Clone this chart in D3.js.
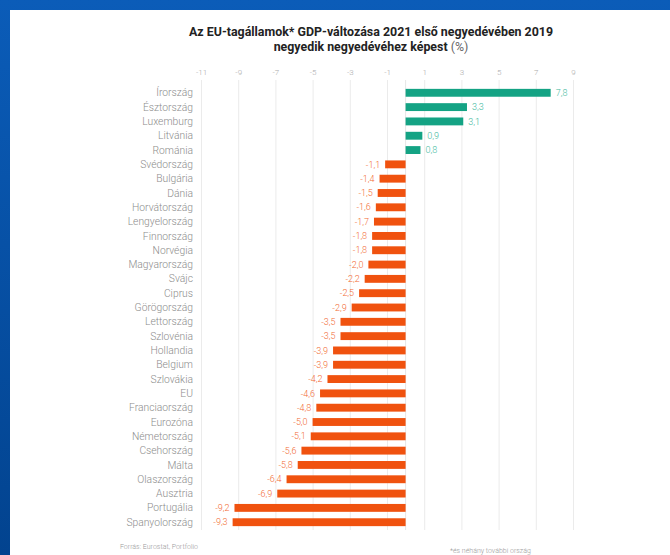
<!DOCTYPE html>
<meta charset="utf-8">
<style>
  body {
    margin: 0;
    padding: 0;
    background: linear-gradient(to bottom, #0b5cb8, #02438f);
    width: 670px;
    height: 555px;
    overflow: hidden;
  }
  svg text {
    font-family: Roboto, "Noto Sans", sans-serif;
  }
  .title {
    font-size: 12.4px;
    font-weight: 700;
    fill: #222;
  }
  .tick text {
    font-size: 8px;
    fill: #aaa;
    font-weight: 300;
  }
  .country {
    font-size: 10.3px;
    font-weight: 300;
    fill: #8c8c8c;
  }
  .val {
    font-size: 9px;
    font-weight: 300;
  }
  .foot {
    font-size: 7px;
    fill: #999;
    font-weight: 300;
  }
</style>
<body>
<script src="https://d3js.org/d3.v7.min.js"></script>
<script>

var countries = ["Írország", "Észtország", "Luxemburg", "Litvánia", "Románia",
  "Svédország", "Bulgária", "Dánia", "Horvátország", "Lengyelország",
  "Finnország", "Norvégia", "Magyarország", "Svájc", "Ciprus", "Görögország",
  "Lettország", "Szlovénia", "Hollandia", "Belgium", "Szlovákia", "EU",
  "Franciaország", "Eurozóna", "Németország", "Csehország", "Málta",
  "Olaszország", "Ausztria", "Portugália", "Spanyolország"];
var values = [7.8, 3.3, 3.1, 0.9, 0.8, -1.1, -1.4, -1.5, -1.6, -1.7, -1.8, -1.8,
  -2.0, -2.2, -2.5, -2.9, -3.5, -3.5, -3.9, -3.9, -4.2, -4.6, -4.8, -5.0, -5.1,
  -5.6, -5.8, -6.4, -6.9, -9.2, -9.3];
var ticks = [-11, -9, -7, -5, -3, -1, 1, 3, 5, 7, 9];

var width = 670, height = 555;
var posColor = "#14a384", negColor = "#f0520f";

var svg = d3.select("body").append("svg")
    .attr("width", width)
    .attr("height", height)
    .style("display", "block");

// white panel over the blue frame
svg.append("rect")
    .attr("x", 10).attr("y", 10)
    .attr("width", width - 10).attr("height", height - 10)
    .attr("fill", "#fff");

var x = d3.scaleLinear()
    .domain([-11, 9])
    .range([201, 573]);

var y = d3.scaleBand()
    .domain(countries)
    .range([86, 529])
    .paddingInner(0.45)
    .paddingOuter(0.2);

// title
svg.append("text").attr("class", "title")
    .attr("x", 371).attr("y", 36)
    .attr("text-anchor", "middle")
    .text("Az EU-tagállamok* GDP-változása 2021 első negyedévében 2019");
var t2 = svg.append("text").attr("class", "title")
    .attr("x", 371).attr("y", 51)
    .attr("text-anchor", "middle");
t2.append("tspan").text("negyedik negyedévéhez képest ");
t2.append("tspan").attr("font-weight", 400).attr("fill", "#666").text("(%)");

// grid + top tick labels
var axis = d3.axisTop(x)
    .tickValues(ticks)
    .tickSize(-(530 - 80))
    .tickPadding(6)
    .tickFormat(d => String(d));

var gAxis = svg.append("g")
    .attr("transform", "translate(0,80)")
    .call(axis);
gAxis.select(".domain").remove();
gAxis.selectAll(".tick line").attr("stroke", "#ebebeb");
gAxis.selectAll(".tick text").attr("dy", "0.1em");

// zero line
svg.append("line")
    .attr("x1", x(0)).attr("x2", x(0))
    .attr("y1", 80).attr("y2", 530)
    .attr("stroke", "#e6e6e6");

var rows = countries.map((c, i) => ({ name: c, value: values[i] }));

svg.append("g").selectAll("rect")
    .data(rows)
    .join("rect")
    .attr("x", d => x(Math.min(0, d.value)))
    .attr("y", d => y(d.name))
    .attr("width", d => Math.abs(x(d.value) - x(0)))
    .attr("height", y.bandwidth())
    .attr("fill", d => d.value >= 0 ? posColor : negColor);

var fmt = d => d3.format(".1f")(Math.abs(d)).replace(".", ",");

svg.append("g").selectAll("text")
    .data(rows)
    .join("text")
    .attr("class", "val")
    .attr("x", d => d.value >= 0 ? x(d.value) + 5 : x(d.value) - 5)
    .attr("y", d => y(d.name) + y.bandwidth() / 2)
    .attr("dy", "0.35em")
    .attr("text-anchor", d => d.value >= 0 ? "start" : "end")
    .attr("fill", d => d.value >= 0 ? "#3bb89c" : "#f26a33")
    .text(d => (d.value < 0 ? "-" : "") + fmt(d.value));

svg.append("g").selectAll("text")
    .data(rows)
    .join("text")
    .attr("class", "country")
    .attr("x", 193)
    .attr("y", d => y(d.name) + y.bandwidth() / 2)
    .attr("dy", "0.35em")
    .attr("text-anchor", "end")
    .text(d => d.name);

// footer
svg.append("text").attr("class", "foot")
    .attr("x", 120).attr("y", 549)
    .text("Forrás: Eurostat, Portfolio");
svg.append("text").attr("class", "foot")
    .attr("x", 450).attr("y", 553)
    .attr("font-size", "8px")
    .text("*és néhány további ország");

</script>
